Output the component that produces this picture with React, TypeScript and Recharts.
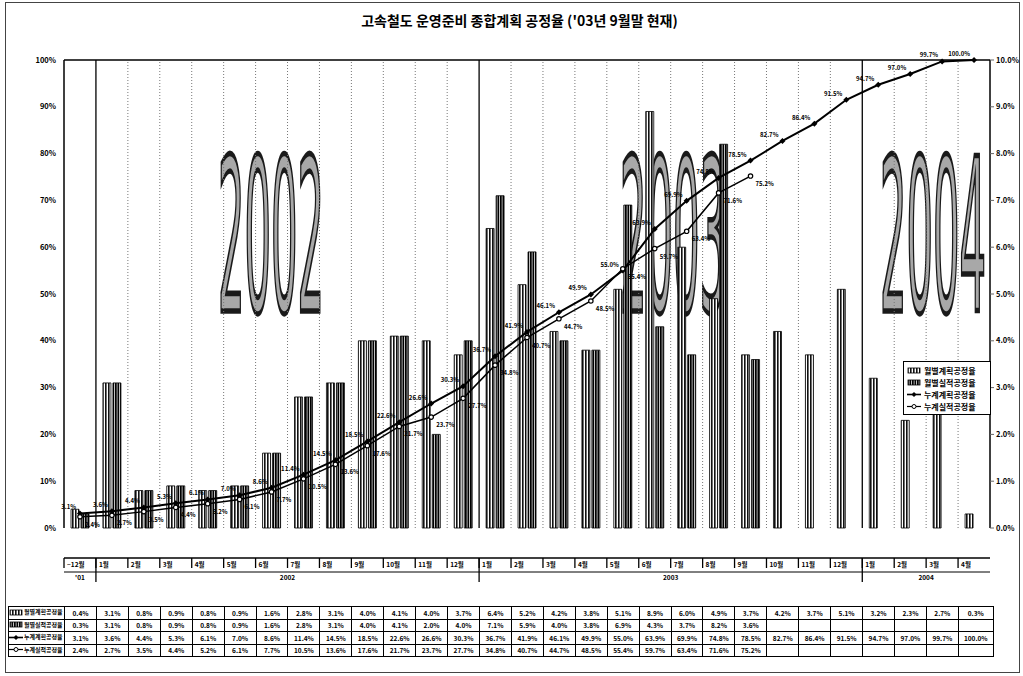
import React from 'react';
import { ComposedChart, Bar, Line, XAxis, YAxis, ReferenceLine, LabelList, Legend } from 'recharts';

const monthLabels = ["~12월", '1월', '2월', '3월', '4월', '5월', '6월', '7월', '8월', '9월', '10월', '11월', '12월', '1월', '2월', '3월', '4월', '5월', '6월', '7월', '8월', '9월', '10월', '11월', '12월', '1월', '2월', '3월', '4월'];
const yearLabels = ["'01", '', '', '', '', '', '2002', '', '', '', '', '', '', '', '', '', '', '', '2003', '', '', '', '', '', '', '', '2004', '', ''];
const planMonthly = [0.4, 3.1, 0.8, 0.9, 0.8, 0.9, 1.6, 2.8, 3.1, 4.0, 4.1, 4.0, 3.7, 6.4, 5.2, 4.2, 3.8, 5.1, 8.9, 6.0, 4.9, 3.7, 4.2, 3.7, 5.1, 3.2, 2.3, 2.7, 0.3];
const actualMonthly = [0.3, 3.1, 0.8, 0.9, 0.8, 0.9, 1.6, 2.8, 3.1, 4.0, 4.1, 2.0, 4.0, 7.1, 5.9, 4.0, 3.8, 6.9, 4.3, 3.7, 8.2, 3.6];
const planCum = [3.1, 3.6, 4.4, 5.3, 6.1, 7.0, 8.6, 11.4, 14.5, 18.5, 22.6, 26.6, 30.3, 36.7, 41.9, 46.1, 49.9, 55.0, 63.9, 69.9, 74.8, 78.5, 82.7, 86.4, 91.5, 94.7, 97.0, 99.7, 100.0];
const actualCum = [2.4, 2.7, 3.5, 4.4, 5.2, 6.1, 7.7, 10.5, 13.6, 17.6, 21.7, 23.7, 27.7, 34.8, 40.7, 44.7, 48.5, 55.4, 59.7, 63.4, 71.6, 75.2];
const yearStarts = [1, 13, 25];
const monthBounds = [2, 3, 4, 5, 6, 7, 8, 9, 10, 11, 12, 14, 15, 16, 17, 18, 19, 20, 21, 22, 23, 24, 26, 27, 28];
const leftTicks = [0, 10, 20, 30, 40, 50, 60, 70, 80, 90, 100];
const rightTicks = [0, 1, 2, 3, 4, 5, 6, 7, 8, 9, 10];
const seriesNames = ['월별계획공정율', '월별실적공정율', '누계계획공정율', '누계실적공정율'];
const bigYears = ['2002', '2003', '2004'];

const data = monthLabels.map((m, i) => ({
  idx: i,
  month: m,
  year: yearLabels[i],
  planM: planMonthly[i],
  actM: actualMonthly[i] ?? null,
  planC: planCum[i],
  actC: actualCum[i] ?? null,
}));

const W = 1023;
const H = 676;
const PL = 64;
const PR = 990;
const BAND = (PR - PL) / monthLabels.length;
const FONT = "'Noto Sans CJK KR', 'Noto Sans', sans-serif";

const MonthTick = (props: any) => {
  const { x, y, payload, index } = props;
  const left = x - BAND / 2;
  const isYear = yearStarts.includes(index);
  return (
    <g>
      <line x1={left} y1={y} x2={left} y2={y + 10} stroke="#000" strokeWidth={1.3} />
      {isYear && <line x1={left} y1={y} x2={left} y2={y + 24} stroke="#000" strokeWidth={1.3} />}
      <text x={left + 3} y={y + 9} fontSize={6.5} fontWeight="bold" fontFamily={FONT} fill="#000">{payload.value}</text>
    </g>
  );
};

const YearTick = (props: any) => {
  const { x, y, payload, index } = props;
  if (!payload.value) return null;
  const cx = index === 0 ? x : x + BAND / 2;
  return (
    <text x={cx} y={y + 8} fontSize={6.5} fontWeight="bold" textAnchor="middle" fontFamily={FONT} fill="#000">{payload.value}</text>
  );
};

const PlanDot = (props: any) => {
  const { cx, cy, value } = props;
  if (value == null || cx == null) return null;
  return <path d={`M${cx},${cy - 3} L${cx + 3},${cy} L${cx},${cy + 3} L${cx - 3},${cy} Z`} fill="#000" />;
};
const ActDot = (props: any) => {
  const { cx, cy, value } = props;
  if (value == null || cx == null) return null;
  return <circle cx={cx} cy={cy} r={2.2} fill="#fff" stroke="#000" strokeWidth={1.2} />;
};

const PlanLabel = (props: any) => {
  const { x, y, value } = props;
  if (value == null) return null;
  return <text x={x - 4} y={y - 4} textAnchor="end" fontSize={6} fontWeight="bold" fontFamily={FONT} fill="#000">{Number(value).toFixed(1)}%</text>;
};
const ActLabel = (props: any) => {
  const { x, y, value } = props;
  if (value == null) return null;
  return <text x={x + 5} y={y + 10} textAnchor="start" fontSize={6} fontWeight="bold" fontFamily={FONT} fill="#000">{Number(value).toFixed(1)}%</text>;
};

const Key = ({ i }: { i: number }) => {
  if (i === 0) return <svg width={14} height={7}><rect x={1} y={1} width={12} height={5} fill="url(#pPlan)" stroke="#000" strokeWidth={0.8} /></svg>;
  if (i === 1) return <svg width={14} height={7}><rect x={1} y={1} width={12} height={5} fill="url(#pAct)" stroke="#000" strokeWidth={0.8} /></svg>;
  if (i === 2) return <svg width={14} height={7}><line x1={0} y1={3.5} x2={14} y2={3.5} stroke="#000" strokeWidth={1.6} /><path d="M7,1 L9.5,3.5 L7,6 L4.5,3.5 Z" fill="#000" /></svg>;
  return <svg width={14} height={7}><line x1={0} y1={3.5} x2={14} y2={3.5} stroke="#000" strokeWidth={1.2} /><circle cx={7} cy={3.5} r={2} fill="#fff" stroke="#000" /></svg>;
};

const LegendBox = () => (
  <div style={{ border: '1.5px solid #000', background: '#fff', padding: '2px 3px', width: 80 }}>
    {seriesNames.map((n, i) => (
      <div key={n} style={{ display: 'flex', alignItems: 'center', height: 12, fontSize: 8, fontWeight: 'bold', fontFamily: FONT, whiteSpace: 'nowrap' }}>
        <Key i={i} />
        <span style={{ marginLeft: 3 }}>{n}</span>
      </div>
    ))}
  </div>
);

const tableRows = [planMonthly, actualMonthly, planCum, actualCum];
const bigYearX = [218, 620, 880];

export default function App() {
  return (
    <div style={{ position: 'absolute', left: 0, top: 0, width: W, height: H, background: '#fff', overflow: 'hidden' }}>
      <svg width={W} height={H} style={{ position: 'absolute', left: 0, top: 0 }}>
        <defs>
          <pattern id="pPlan" width="3" height="4" patternUnits="userSpaceOnUse">
            <rect width="3" height="4" fill="#fff" />
            <rect width="1.6" height="4" fill="#111" />
          </pattern>
          <pattern id="pAct" width="2.5" height="4" patternUnits="userSpaceOnUse">
            <rect width="2.5" height="4" fill="#fff" />
            <rect width="1.8" height="4" fill="#000" />
          </pattern>
        </defs>
        {bigYears.map((t, i) => (
          <text key={t} transform={`translate(${bigYearX[i]},311) scale(1,5.3)`} x={0} y={0} fontSize={40}
            textLength={106} lengthAdjust="spacingAndGlyphs"
            fontFamily="'Liberation Sans Narrow', 'DejaVu Sans Condensed', 'Liberation Sans', sans-serif"
            fill="#a8a8a8" stroke="#1a1a1a" strokeWidth={4} vectorEffect="non-scaling-stroke">{t}</text>
        ))}
      </svg>
      <div style={{ position: 'absolute', left: 5, top: 2, width: 1013, height: 669, border: '1px solid #444' }} />
      <div style={{ position: 'absolute', left: 0, top: 10, width: W, textAlign: 'center', fontSize: 14, fontWeight: 'bold', fontFamily: FONT, color: '#000', paddingLeft: 16, boxSizing: 'border-box' }}>
        고속철도 운영준비 종합계획 공정율 ('03년 9월말 현재)
      </div>
      <div style={{ position: 'absolute', left: 0, top: 0 }}>
        <ComposedChart width={W} height={H} data={data} margin={{ top: 60, right: 0, left: 20, bottom: 64 }} barSize={8} barGap={2}>
          <XAxis xAxisId="m" dataKey="month" interval={0} tick={<MonthTick />} tickLine={false} tickSize={0} tickMargin={0} axisLine={{ stroke: '#000', strokeWidth: 1.5 }} height={14} />
          <XAxis xAxisId="y" dataKey="year" interval={0} tick={<YearTick />} tickLine={false} tickSize={0} tickMargin={0} axisLine={{ stroke: '#000', strokeWidth: 1 }} height={16} />
          <XAxis xAxisId="g" dataKey="idx" type="number" domain={[0, monthLabels.length]} hide allowDataOverflow />
          <YAxis yAxisId="L" domain={[0, 100]} ticks={leftTicks} tickFormatter={(v: number) => `${v}%`} width={44}
            tick={{ fontSize: 7.5, fontWeight: 'bold', fill: '#000', fontFamily: FONT }} tickLine={false} axisLine={{ stroke: '#000', strokeWidth: 1.5 }} />
          <YAxis yAxisId="R" orientation="right" domain={[0, 10]} ticks={rightTicks} tickFormatter={(v: number) => `${v.toFixed(1)}%`} width={33}
            tick={{ fontSize: 7.5, fontWeight: 'bold', fill: '#000', fontFamily: FONT }} tickSize={4} axisLine={{ stroke: '#000', strokeWidth: 1.5 }} />
          {monthBounds.map(b => (
            <ReferenceLine key={`mb${b}`} xAxisId="g" yAxisId="L" x={b} stroke="#777" strokeDasharray="1 2" />
          ))}
          {yearStarts.map(b => (
            <ReferenceLine key={`yb${b}`} xAxisId="g" yAxisId="L" x={b} stroke="#000" strokeWidth={1.3} />
          ))}
          <ReferenceLine xAxisId="g" yAxisId="L" y={100} stroke="#000" strokeWidth={1.5} />
          <Bar xAxisId="m" yAxisId="R" dataKey="planM" name={seriesNames[0]} fill="url(#pPlan)" stroke="#000" strokeWidth={0.8} isAnimationActive={false} />
          <Bar xAxisId="m" yAxisId="R" dataKey="actM" name={seriesNames[1]} fill="url(#pAct)" stroke="#000" strokeWidth={0.8} isAnimationActive={false} />
          <Line xAxisId="m" yAxisId="L" dataKey="planC" name={seriesNames[2]} stroke="#000" strokeWidth={2} dot={<PlanDot />} activeDot={false} isAnimationActive={false}>
            <LabelList dataKey="planC" content={<PlanLabel />} />
          </Line>
          <Line xAxisId="m" yAxisId="L" dataKey="actC" name={seriesNames[3]} stroke="#000" strokeWidth={1.5} dot={<ActDot />} activeDot={false} connectNulls={false} isAnimationActive={false}>
            <LabelList dataKey="actC" content={<ActLabel />} />
          </Line>
          <Legend content={<LegendBox />} wrapperStyle={{ position: 'absolute', left: 903, top: 361, width: 88, bottom: 'auto', right: 'auto' }} />
        </ComposedChart>
      </div>
      <table style={{ position: 'absolute', left: 8, top: 606, borderCollapse: 'collapse', tableLayout: 'fixed', width: PR - 8 + 3, fontFamily: FONT }}>
        <colgroup>
          <col style={{ width: PL - 8 }} />
          {monthLabels.map((_, i) => <col key={i} style={{ width: i === monthLabels.length - 1 ? BAND + 3 : BAND }} />)}
        </colgroup>
        <tbody>
          {tableRows.map((row, r) => (
            <tr key={r} style={{ height: 12 }}>
              <td style={{ border: '1.2px solid #000', padding: 0, fontSize: 6, fontWeight: 'bold', whiteSpace: 'nowrap', overflow: 'hidden', lineHeight: '10px' }}>
                <span style={{ display: 'inline-flex', alignItems: 'center' }}><Key i={r} /><span style={{ marginLeft: 1 }}>{seriesNames[r]}</span></span>
              </td>
              {monthLabels.map((_, i) => (
                <td key={i} style={{ border: '1.2px solid #000', padding: 0, fontSize: 6.5, fontWeight: 'bold', textAlign: 'center', lineHeight: '10px' }}>
                  {row[i] != null ? `${row[i].toFixed(1)}%` : ''}
                </td>
              ))}
            </tr>
          ))}
        </tbody>
      </table>
    </div>
  );
}
